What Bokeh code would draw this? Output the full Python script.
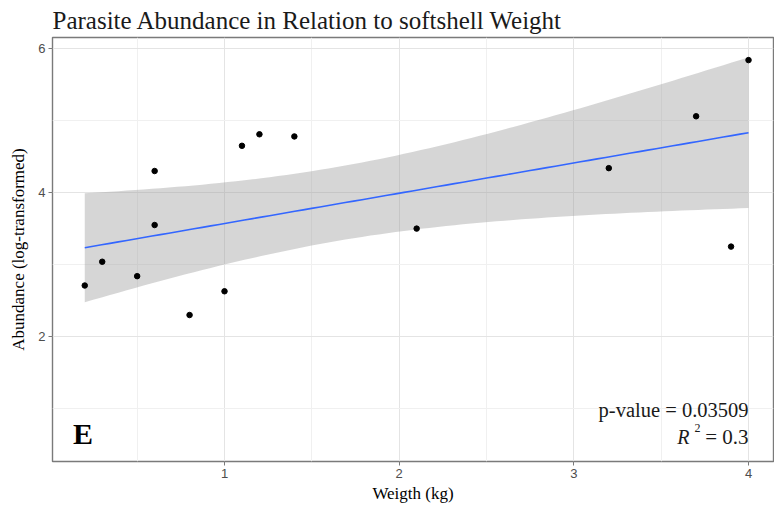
import numpy as np
from bokeh.plotting import figure
from bokeh.models import FixedTicker, Range1d, Label, ColumnDataSource
from bokeh.embed import file_html
from bokeh.resources import INLINE

# ---- data ----
weight = [0.2, 0.3, 0.5, 0.6, 0.6, 0.8, 1.0, 1.1, 1.2, 1.4, 2.1, 3.2, 3.7, 3.9, 4.0]
abundance = [2.71, 3.04, 2.84, 4.30, 3.55, 2.30, 2.63, 4.65, 4.81, 4.78, 3.50, 4.34, 5.06, 3.25, 5.84]
x_ticks = [1, 2, 3, 4]
x_minor = [0.5, 1.5, 2.5, 3.5]
y_ticks = [2, 4, 6]
y_minor = [1, 3, 5]
title_text = "Parasite Abundance in Relation to softshell Weight"
x_title = "Weigth (kg)"
y_title = "Abundance (log-transformed)"
p_text = "p-value = 0.03509"
r2_rest = "= 0.3"
panel_letter = "E"

# ---- linear fit with 95% confidence band (as geom_smooth(method="lm")) ----
x = np.array(weight)
y = np.array(abundance)
n = len(x)
b1, b0 = np.polyfit(x, y, 1)
xs = np.linspace(x.min(), x.max(), 80)
yhat = b0 + b1 * xs
resid = y - (b0 + b1 * x)
s = np.sqrt((resid ** 2).sum() / (n - 2))
sxx = ((x - x.mean()) ** 2).sum()
t_crit = 2.160  # t(0.975, df=13)
se = s * np.sqrt(1.0 / n + (xs - x.mean()) ** 2 / sxx)
fit = ColumnDataSource(dict(x=xs, y=yhat, lo=yhat - t_crit * se, hi=yhat + t_crit * se))
pts = ColumnDataSource(dict(x=weight, y=abundance))

p = figure(width=774, height=505, output_backend="svg", toolbar_location=None,
           x_range=Range1d(0.0153, 4.143), y_range=Range1d(0.266, 6.154),
           min_border_left=52, min_border_right=1, min_border_top=0, min_border_bottom=0,
           background_fill_color="white", border_fill_color="white")

p.title.text = title_text
p.title.text_font = "Liberation Serif"
p.title.text_font_size = "25px"
p.title.text_font_style = "normal"
p.title.text_color = "#1a1a1a"
p.title.align = "left"
p.title.standoff = 8

p.outline_line_color = "#7a7a7a"
p.outline_line_width = 1.4

p.xaxis.ticker = FixedTicker(ticks=x_ticks, minor_ticks=x_minor)
p.yaxis.ticker = FixedTicker(ticks=y_ticks, minor_ticks=y_minor)
for ax in (p.xaxis, p.yaxis):
    ax.axis_line_color = None
    ax.major_tick_line_color = "#7a7a7a"
    ax.major_tick_out = 4
    ax.major_tick_in = 0
    ax.minor_tick_out = 0
    ax.minor_tick_in = 0
    ax.major_label_text_font = "Liberation Sans"
    ax.major_label_text_font_size = "13px"
    ax.major_label_text_color = "#4d4d4d"
    ax.axis_label_text_font = "Liberation Serif"
    ax.axis_label_text_font_size = "17px"
    ax.axis_label_text_font_style = "normal"
    ax.axis_label_text_color = "#000000"
p.xaxis.axis_label = x_title
p.yaxis.axis_label = y_title
p.xaxis.major_label_standoff = 3
p.yaxis.major_label_standoff = 3
p.xaxis.axis_label_standoff = 3
p.yaxis.axis_label_standoff = 7

p.grid.grid_line_color = "#e4e4e4"
p.grid.grid_line_width = 1
p.grid.minor_grid_line_color = "#f0f0f0"
p.grid.minor_grid_line_width = 1

p.varea(x="x", y1="lo", y2="hi", source=fit, fill_color="#999999", fill_alpha=0.4)
p.line(x="x", y="y", source=fit, line_color="#3366FF", line_width=1.6)
p.scatter(x="x", y="y", source=pts, size=5.5, fill_color="black", line_color="black")

p.add_layout(Label(x=4.0, y=0.98, text=p_text, text_align="right", text_baseline="alphabetic",
                   text_font="Liberation Serif", text_font_size="20.5px", text_color="#1a1a1a"))
p.add_layout(Label(x=4.0, y=0.60, text=r2_rest, text_align="right", text_baseline="alphabetic",
                   text_font="Liberation Serif", text_font_size="21px", text_color="#1a1a1a"))
p.add_layout(Label(x=4.0, y=0.726, x_offset=-48, text="2", text_align="right", text_baseline="alphabetic",
                   text_font="Liberation Serif", text_font_size="12px", text_color="#1a1a1a"))
p.add_layout(Label(x=4.0, y=0.60, x_offset=-59, text="R", text_align="right", text_baseline="alphabetic",
                   text_font="Liberation Serif", text_font_size="20px", text_font_style="italic",
                   text_color="#1a1a1a"))
p.add_layout(Label(x=0.19, y=0.65, text=panel_letter, text_align="center", text_baseline="alphabetic",
                   text_font="Liberation Serif", text_font_size="30px", text_font_style="bold",
                   text_color="#000000"))

open("out.html", "w").write(file_html(p, INLINE))
